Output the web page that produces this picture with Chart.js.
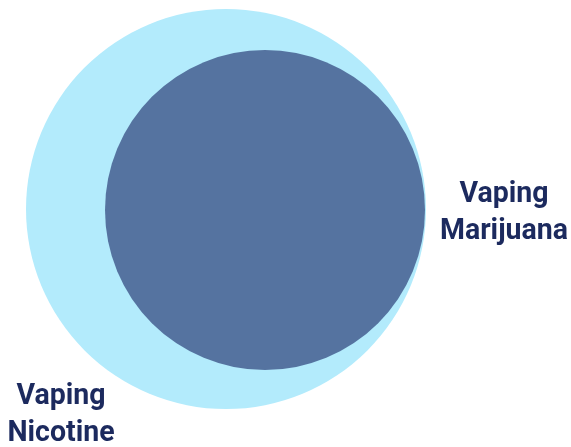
<!DOCTYPE html>
<html>
<head>
<meta charset="utf-8">
<style>
  html, body { margin: 0; padding: 0; background: #fff; }
  #venn { display: block; }
</style>
<script src="https://cdn.jsdelivr.net/npm/chart.js@4.4.1/dist/chart.umd.min.js"></script>
</head>
<body>
<canvas id="venn" width="571" height="447"></canvas>
<script>
// sets drawn in this order (outer first)
const sets = ['Vaping Nicotine', 'Vaping Marijuana'];
const radii = [1, 0.8];
const centersX = [0, 0.195];
const centersY = [0, -0.005];
const labelLines = [['Vaping', 'Nicotine'], ['Vaping', 'Marijuana']];

const fills = ['#b3ebfc', '#5573a0'];
const textColor = '#1c2a5e';
// where each label block is centred, in axis units
const labelAt = [{ x: -0.825, y: -1.065 }, { x: 1.39, y: -0.055 }];

const vennLabels = {
  id: 'vennLabels',
  afterDraw(chart) {
    const { ctx, scales: { x, y } } = chart;
    ctx.save();
    ctx.fillStyle = textColor;
    ctx.font = '700 30px Roboto, "Noto Sans", sans-serif';
    ctx.textAlign = 'center';
    ctx.textBaseline = 'alphabetic';
    labelLines.forEach((lines, i) => {
      const px = x.getPixelForValue(labelAt[i].x);
      const py = y.getPixelForValue(labelAt[i].y);
      lines.forEach((t, j) => {
        ctx.save();
        ctx.translate(px, py + (j - 0.5) * 37);
        ctx.scale(0.95, 1);
        ctx.fillText(t, 0, 0);
        ctx.restore();
      });
    });
    ctx.restore();
  }
};

const radiusPx = c => {
  const s = c.chart.scales.x;
  return s.getPixelForValue(radii[c.dataIndex]) - s.getPixelForValue(0);
};

new Chart(document.getElementById('venn'), {
  type: 'scatter',
  data: {
    datasets: [{
      label: 'Sets',
      data: sets.map((s, i) => ({ x: centersX[i], y: centersY[i] })),
      backgroundColor: fills,
      borderWidth: 0,
      pointRadius: radiusPx,
      pointHoverRadius: radiusPx
    }]
  },
  options: {
    responsive: false,
    animation: false,
    events: [],
    devicePixelRatio: 1,
    layout: { padding: 0 },
    plugins: { legend: { display: false }, tooltip: { enabled: false } },
    scales: {
      x: { type: 'linear', min: -1.13, max: 1.725, display: false },
      y: { type: 'linear', min: -1.19, max: 1.045, display: false }
    }
  },
  plugins: [vennLabels]
});
</script>
</body>
</html>
